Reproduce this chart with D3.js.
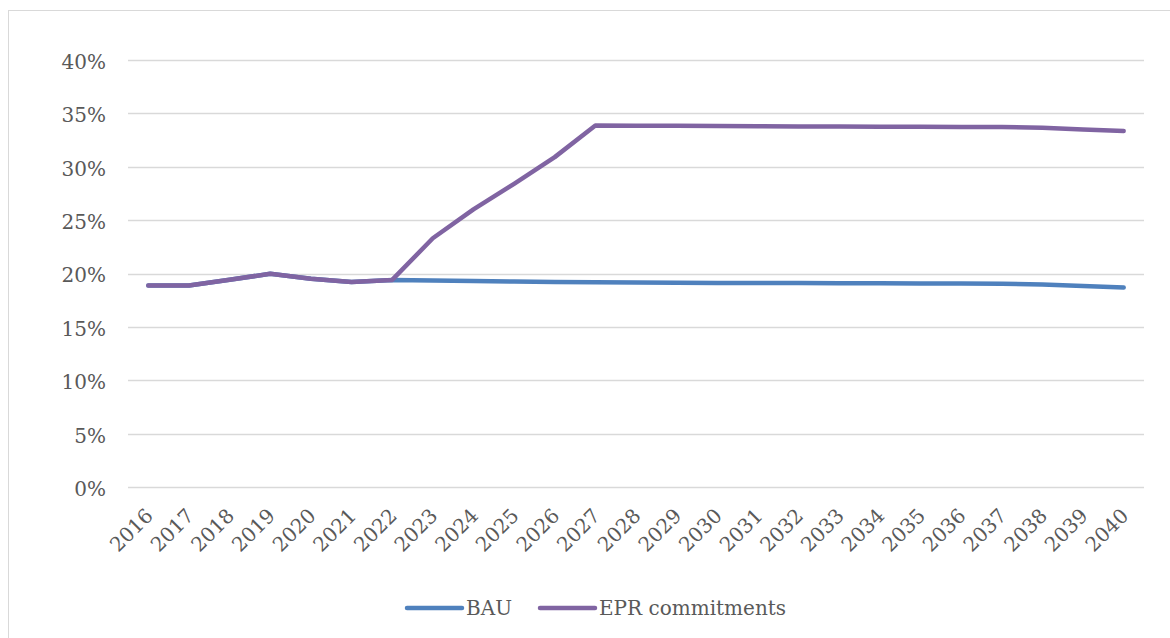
<!DOCTYPE html>
<html><head><meta charset="utf-8">
<script src="https://cdn.jsdelivr.net/npm/d3@7"></script>
<style>body{margin:0;background:#fff;} svg{display:block;}</style>
</head><body>
<svg id="c" width="1170" height="638"></svg>
<script>
const years = ["2016","2017","2018","2019","2020","2021","2022","2023","2024","2025","2026","2027","2028","2029","2030","2031","2032","2033","2034","2035","2036","2037","2038","2039","2040"];
const bau = [0.1887,0.1887,0.1942,0.1997,0.1950,0.1920,0.1940,0.1935,0.1930,0.1925,0.1920,0.1918,0.1916,0.1914,0.1912,0.1911,0.1910,0.1909,0.1908,0.1907,0.1906,0.1905,0.1898,0.1884,0.1868];
const epr = [0.1887,0.1887,0.1942,0.1997,0.1950,0.1920,0.1940,0.2330,0.2600,0.2840,0.3090,0.3387,0.3385,0.3383,0.3381,0.3380,0.3378,0.3377,0.3375,0.3374,0.3373,0.3372,0.3366,0.3349,0.3335];
const yTicks = [0,0.05,0.10,0.15,0.20,0.25,0.30,0.35,0.40];
const seriesNames = ["BAU","EPR commitments"];
const colors = ["#4f81bd","#8064a2"];

const svg = d3.select("#c");
const font = "'DejaVu Serif', serif";
const fs = 20;
svg.append("rect").attr("x",8.5).attr("y",10.5).attr("width",1200).attr("height",700)
  .attr("fill","none").attr("stroke","#d9d9d9").attr("stroke-width",1);

const L=128, R=1144, T=60, B=487;
const x = d3.scaleBand().domain(years).range([L,R]);
const y = d3.scaleLinear().domain([0,0.4]).range([B,T]);

const grid = svg.append("g");
grid.selectAll("line").data(yTicks).join("line")
  .attr("x1",L).attr("x2",R).attr("y1",d=>Math.round(y(d))+0.5).attr("y2",d=>Math.round(y(d))+0.5)
  .attr("stroke","#d9d9d9").attr("stroke-width",1.3);

const yAxis = svg.append("g").attr("transform",`translate(${L},2)`)
  .call(d3.axisLeft(y).tickValues(yTicks).tickFormat(d3.format(".0%")).tickSize(0).tickPadding(22));
yAxis.select(".domain").remove();
yAxis.selectAll("text").attr("font-family",font).attr("font-size",fs).attr("fill","#595959");

const xAxis = svg.append("g").attr("transform",`translate(0,${B})`)
  .call(d3.axisBottom(x).tickSize(0).tickPadding(0));
xAxis.select(".domain").remove();
xAxis.selectAll("text").attr("font-family",font).attr("font-size",fs).attr("fill","#595959")
  .attr("text-anchor","end").attr("dy",0)
  .attr("transform","translate(6,30) rotate(-45)");

const line = d3.line().x((d,i)=>x(years[i])+x.bandwidth()/2).y(d=>y(d));
[bau,epr].forEach((s,k)=>{
  svg.append("path").datum(s).attr("d",line).attr("fill","none")
    .attr("stroke",colors[k]).attr("stroke-width",4.5).attr("stroke-linecap","round").attr("stroke-linejoin","round");
});

const leg = [{x0:407,tx:466},{x0:540,tx:599}];
seriesNames.forEach((n,k)=>{
  svg.append("line").attr("x1",leg[k].x0).attr("x2",leg[k].x0+55).attr("y1",608).attr("y2",608)
    .attr("stroke",colors[k]).attr("stroke-width",4.5).attr("stroke-linecap","round");
  svg.append("text").attr("x",leg[k].tx).attr("y",615).text(n)
    .attr("font-family",font).attr("font-size",fs).attr("fill","#595959");
});
</script>
</body></html>
